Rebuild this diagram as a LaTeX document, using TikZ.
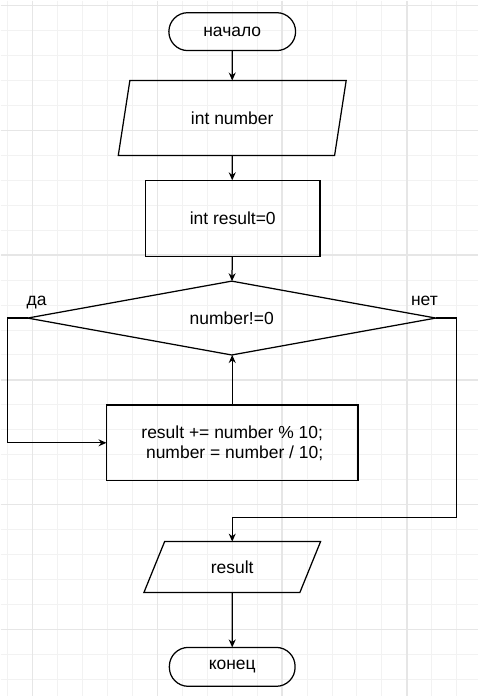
\documentclass[tikz,border=0pt]{standalone}
\usepackage{fontspec}
\setmainfont{Liberation Sans}
\usetikzlibrary{arrows.meta,positioning,shapes.geometric}
\definecolor{GridMinor}{HTML}{F2F2F2}
\definecolor{GridMajor}{HTML}{E6E6E6}

\begin{document}
\begin{tikzpicture}[
  x=1pt,y=1pt,
  every node/.style={font=\fontsize{17.5}{20}\selectfont,align=center,outer sep=0pt},
  term/.style={draw,line width=1.25pt,rounded corners=19pt,minimum width=127pt,minimum height=38pt},
  io/.style={draw,line width=1.25pt,trapezium,trapezium stretches=true,inner sep=0pt},
  proc/.style={draw,line width=1.25pt,minimum width=175pt,minimum height=76pt},
  cond/.style={draw,line width=1.25pt,diamond,aspect=5.5,inner sep=0pt,minimum width=409pt,minimum height=74pt},
  lbl/.style={inner sep=0pt},
  arr/.style={-{Stealth[length=8pt,width=7pt]},line width=1.25pt}
]
  % background grid
  \fill[white] (0,0) rectangle (478,-697);
  \foreach \gx in {7,32,...,457} \draw[GridMinor,line width=1pt] (\gx,0) -- (\gx,-697);
  \foreach \gy in {5,30,...,680} \draw[GridMinor,line width=1pt] (0,-\gy) -- (478,-\gy);
  \foreach \gx in {32,157,282,407} \draw[GridMajor,line width=1.4pt] (\gx,0) -- (\gx,-697);
  \foreach \gy in {5,130,255,380,505,630} \draw[GridMajor,line width=1.4pt] (0,-\gy) -- (478,-\gy);
  \useasboundingbox (0,0) rectangle (478,-697);

  % blocks
  \node[term] (start) at (232,-31) {начало};
  \node[io,trapezium left angle=70,trapezium right angle=110,minimum width=230pt,minimum height=75pt] (inp) at (232,-117.5) {int number};
  \node[proc] (init) at (232.5,-218) {int result=0};
  \node[cond] (check) at (231.5,-318) {number!=0};
  \node[proc,minimum width=252pt] (body) at (232,-443) {result += number \% 10;\\\mbox{} number = number / 10;};
  \node[io,trapezium left angle=63,trapezium right angle=117,minimum width=178pt,minimum height=51pt] (outp) at (232,-567.5) {result};
  \node[term,minimum width=126pt,minimum height=39pt] (stop) at (232,-667.5) {конец};

  \node[lbl,anchor=base west] (yes) at ([shift={(-1,13)}]check.west) {да};
  \node[lbl,anchor=base east] (no) at ([shift={(2,13)}]check.east) {нет};

  % connectors
  \coordinate (yesturn) at (7,-318);
  \coordinate (noturn) at (457,-518);
  \draw[arr] (start) -- (inp);
  \draw[arr] (inp) -- (init.north -| inp);
  \draw[arr] (init.south -| inp) -- (check);
  \draw[arr] (body) -- (check.south -| body);
  \draw[arr] (check.west) -- (yesturn) |- (body.west);
  \draw[arr] (check.east) -| (noturn) -| (outp.north);
  \draw[arr] (outp) -- (stop);
\end{tikzpicture}
\end{document}
